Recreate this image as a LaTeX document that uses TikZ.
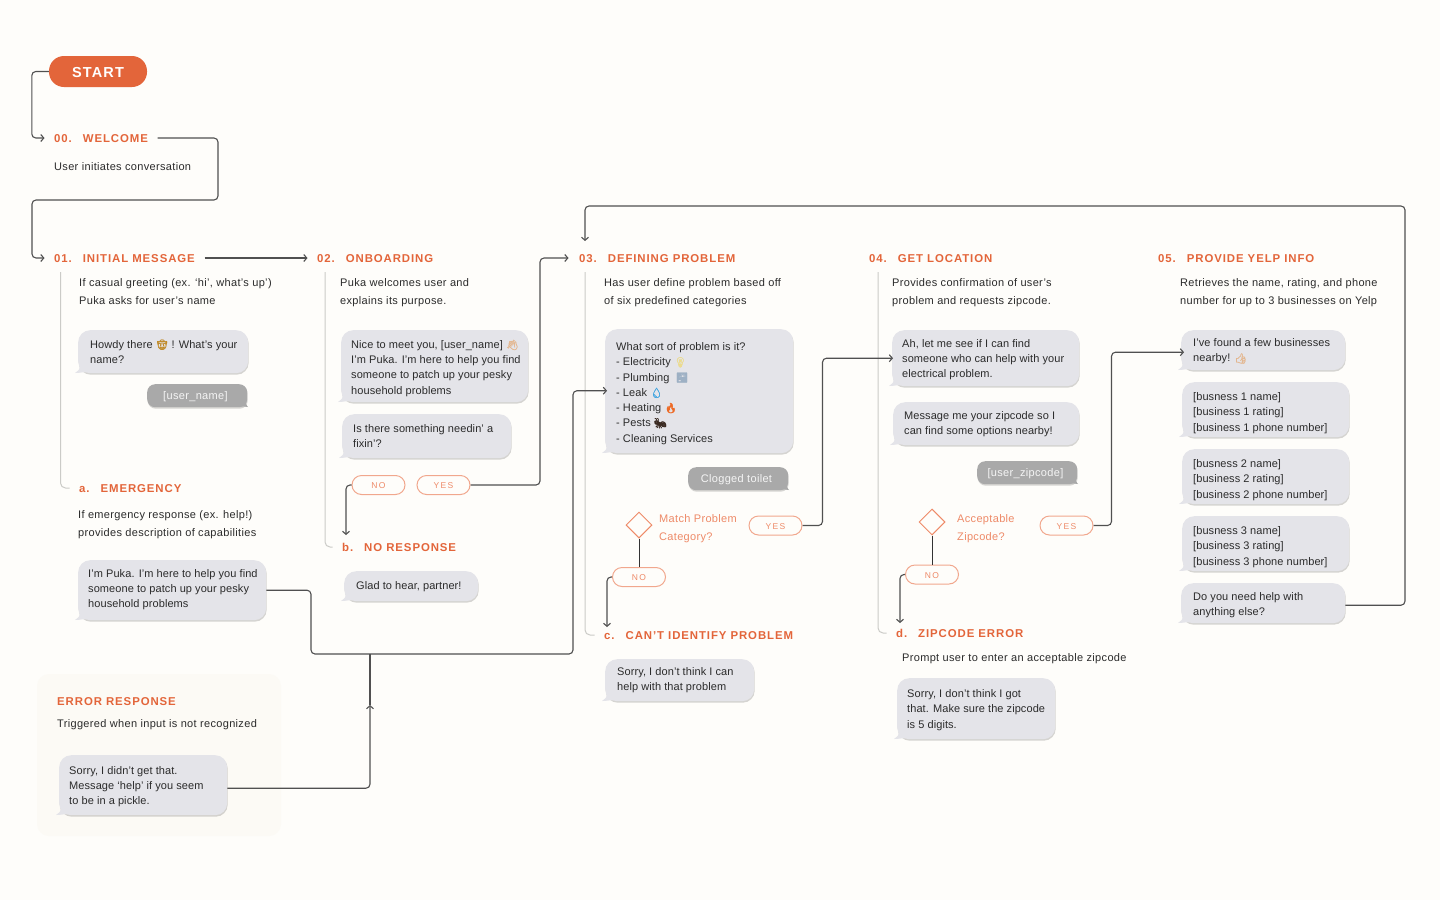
\documentclass[tikz,border=0pt]{standalone}
\usepackage{fontspec}
\setmainfont[LetterSpace=0.7]{Liberation Sans}
\newfontfamily\headfont[LetterSpace=8]{Liberation Sans}
\newfontfamily\descfont[LetterSpace=3]{Liberation Sans}
\newfontfamily\pillfont[LetterSpace=16]{Liberation Sans}
\newfontfamily\emofont[FakeBold=2]{Noto Emoji}
\usetikzlibrary{arrows.meta,shapes.geometric,shadows}
\definecolor{paper}{HTML}{FEFDFA}
\definecolor{panel}{HTML}{FCFAF5}
\definecolor{orange}{HTML}{E3653A}
\definecolor{softorange}{HTML}{EE8A68}
\definecolor{pillline}{HTML}{F1A78D}
\definecolor{bubblegrey}{HTML}{E4E4E9}
\definecolor{usergrey}{HTML}{A9A9A9}
\definecolor{ink}{HTML}{2B2B2B}
\definecolor{wire}{HTML}{505050}
\definecolor{railgrey}{HTML}{CBCBC7}
\definecolor{cowboy}{HTML}{C08A28}
\definecolor{skin}{HTML}{E3B68E}
\definecolor{bulb}{HTML}{EBDB90}
\definecolor{tap}{HTML}{9DB0C4}
\definecolor{drop}{HTML}{3FA4E0}
\definecolor{flame}{HTML}{EE6A25}
\definecolor{ant}{HTML}{3A2A22}
\newcommand{\emo}[2]{{\textcolor{#1}{\emofont\fontsize{10}{15}\selectfont #2}}}
\tikzset{
  x=1pt,y=-1pt,
  startpill/.style={fill=orange,rounded corners=15pt,minimum width=98pt,minimum height=31pt,inner sep=0,text=white,text height=11.5pt,text depth=0pt,font=\headfont\bfseries\fontsize{14.5}{18}\selectfont},
  heading/.style={anchor=west,inner xsep=9.5pt,inner ysep=0,xshift=-9.5pt,text=orange,text height=8.5pt,text depth=0pt,font=\headfont\bfseries\fontsize{11.4}{14}\selectfont},
  desc/.style={anchor=west,inner sep=0,text=ink,text height=8pt,text depth=0pt,font=\descfont\fontsize{11}{14}\selectfont},
  question/.style={anchor=west,inner sep=0,text=softorange,text height=8pt,text depth=0pt,font=\descfont\fontsize{11}{14}\selectfont},
  botbubble/.style={anchor=north west,inner sep=0,fill=bubblegrey,rounded corners=12pt,text=ink,
     drop shadow={shadow xshift=.5pt,shadow yshift=-1.5pt,fill=black,opacity=.16},font=\fontsize{11}{15.25}\selectfont},
  userbubble/.style={anchor=north west,inner sep=0,fill=usergrey,rounded corners=8pt,text=white!88!usergrey,
     drop shadow={shadow xshift=.5pt,shadow yshift=-1.5pt,fill=black,opacity=.16},font=\descfont\fontsize{11}{15}\selectfont},
  pill/.style={draw=pillline,line width=1pt,fill=paper,rounded corners=9.5pt,minimum width=53pt,minimum height=19pt,inner sep=0,text=softorange,text height=7.5pt,text depth=0pt,font=\pillfont\fontsize{8.5}{10}\selectfont},
  choice/.style={diamond,aspect=1,draw=softorange,line width=1pt,fill=paper,minimum width=26pt,minimum height=26pt,inner sep=0},
  conn/.style={draw=wire,line width=1.1pt,rounded corners=4pt,-{Straight Barb[length=3pt,width=7pt]}},
  plainconn/.style={draw=wire,line width=1.1pt,rounded corners=4pt},
  stem/.style={draw=black!80,line width=1pt},
  rail/.style={draw=railgrey,line width=1pt,rounded corners=5pt},
}
% name, x1, y1, x2, y2, text left, text drop, lines
\newcommand{\botb}[8]{%
  \pgfmathsetlengthmacro{\bw}{(#4-#2)*1pt}\pgfmathsetlengthmacro{\bh}{(#5-#3)*1pt}\pgfmathsetlengthmacro{\bp}{(#6-#2)*1pt}%
  \node[botbubble,minimum width=\bw,minimum height=\bh] (#1) at (#2,#3) {\makebox[\bw][l]{\hspace{\bp}\raisebox{0pt}[\dimexpr\height+#7pt+#7pt\relax][\depth]{\begin{tabular}{@{}l@{}}#8\end{tabular}}}};
  \fill[bubblegrey] (#2+2,#5-8) .. controls (#2+2,#5-4) and (#2,#5-1) .. (#2-3,#5) .. controls (#2+2,#5) and (#2+5,#5-1) .. (#2+9,#5-1) -- cycle;
}
\newcommand{\userb}[6]{%
  \pgfmathsetlengthmacro{\bw}{(#4-#2)*1pt}\pgfmathsetlengthmacro{\bh}{(#5-#3)*1pt}%
  \node[userbubble,minimum width=\bw,minimum height=\bh] (#1) at (#2,#3) {\raisebox{0pt}[\dimexpr\height+2pt\relax][\depth]{#6}\hspace*{3.5pt}};
  \fill[usergrey] (#4-2,#5-8) .. controls (#4-2,#5-4) and (#4,#5-1) .. (#4+1,#5) .. controls (#4-2,#5) and (#4-5,#5-1) .. (#4-9,#5-1) -- cycle;
}
\begin{document}
\begin{tikzpicture}
\useasboundingbox (0,0) rectangle (1440,900);
\fill[paper] (0,0) rectangle (1440,900);
\fill[panel,rounded corners=12pt] (37,674) rectangle (281,836);

% rails
\coordinate (r1) at (60.5,272);
\coordinate (r2) at (325,272);
\coordinate (r3) at (585,272);
\coordinate (r4) at (878,272);

% start and headings
\node[startpill] (start) at (98,71.5) {START};
\node[heading] (h00) at (54,138) {00.\hspace{11pt}WELCOME};
\node[heading] (h01) at (54,258) {01.\hspace{11pt}INITIAL MESSAGE};
\node[heading] (h02) at (317,258) {02.\hspace{11pt}ONBOARDING};
\node[heading] (h03) at (579,258) {03.\hspace{11pt}DEFINING PROBLEM};
\node[heading] (h04) at (869,258) {04.\hspace{11pt}GET LOCATION};
\node[heading] (h05) at (1158,258) {05.\hspace{11pt}PROVIDE YELP INFO};
\node[heading] (ha) at (79,488) {a.\hspace{11pt}EMERGENCY};
\node[heading] (hb) at (342,547) {b.\hspace{11pt}NO RESPONSE};
\node[heading] (hc) at (604,635) {c.\hspace{11pt}CAN’T IDENTIFY PROBLEM};
\node[heading] (hd) at (896,633) {d.\hspace{11pt}ZIPCODE ERROR};
\node[heading] (herr) at (57,701) {ERROR RESPONSE};

\draw[rail] (r1) |- (ha.west);
\draw[rail] (r2) |- (hb.west);
\draw[rail] (r3) |- (hc.west);
\draw[rail] (r4) |- (hd.west);

% descriptions
\node[desc] (d00) at (54,166) {User initiates conversation};
\node[desc] (d01a) at (79,282) {If casual greeting (ex. ‘hi’, what’s up’)};
\node[desc] (d01b) at (79,300) {Puka asks for user’s name};
\node[desc] (d02a) at (340,282) {Puka welcomes user and};
\node[desc] (d02b) at (340,300) {explains its purpose.};
\node[desc] (d03a) at (604,282) {Has user define problem based off};
\node[desc] (d03b) at (604,300) {of six predefined categories};
\node[desc] (d04a) at (892,282) {Provides confirmation of user’s};
\node[desc] (d04b) at (892,300) {problem and requests zipcode.};
\node[desc] (d05a) at (1180,282) {Retrieves the name, rating, and phone};
\node[desc] (d05b) at (1180,300) {number for up to 3 businesses on Yelp};
\node[desc] (dae) at (78,514) {If emergency response (ex. help!)};
\node[desc] (daf) at (78,532) {provides description of capabilities};
\node[desc] (dd) at (902,657) {Prompt user to enter an acceptable zipcode};
\node[desc] (derr) at (57,723) {Triggered when input is not recognized};

% bubbles
\botb{howdy}{78}{330}{248}{373}{90}{1}{Howdy there \emo{cowboy}{🤠} ! What’s your\\name?}
\userb{uname}{147}{384}{247}{407}{[user\_name]}
\botb{nice}{341}{330}{528}{402}{351}{2}{Nice to meet you, [user\_name] \emo{skin}{👋}\\I’m Puka. I’m here to help you find\\someone to patch up your pesky\\household problems}
\botb{fixin}{342}{414}{511}{458}{353}{1}{Is there something needin’ a\\fixin’?}
\botb{glad}{344}{571}{478}{601}{356}{0}{Glad to hear, partner!}
\botb{emerg}{78}{560}{266}{620}{88}{-1}{I’m Puka. I’m here to help you find\\someone to patch up your pesky\\household problems}
\botb{sorrye}{59}{755}{227}{815}{69}{1}{Sorry, I didn’t get that.\\Message ‘help’ if you seem\\to be in a pickle.}
\botb{prob}{605}{329}{793}{453}{616}{2}{What sort of problem is it?\\- Electricity \emo{bulb}{💡}\\- Plumbing \ \emo{tap}{🚰}\\- Leak \emo{drop}{💧}\\- Heating \emo{flame}{🔥}\\- Pests \emo{ant}{🐜}\\- Cleaning Services}
\userb{clog}{688}{467}{788}{490}{Clogged toilet}
\botb{sorryc}{605}{659}{754}{701}{617}{0}{Sorry, I don’t think I can\\help with that problem}
\botb{ah}{892}{330}{1079}{386}{902}{1}{Ah, let me see if I can find\\someone who can help with your\\electrical problem.}
\botb{msg}{893}{402}{1079}{445}{904}{0}{Message me your zipcode so I\\can find some options nearby!}
\userb{uzip}{977}{461}{1077}{484}{[user\_zipcode]}
\botb{sorryd}{897}{678}{1055}{739}{907}{1}{Sorry, I don’t think I got\\that. Make sure the zipcode\\is 5 digits.}
\botb{ive}{1181}{330}{1345}{370}{1193}{1}{I’ve found a few businesses\\nearby! \emo{skin}{👍}}
\botb{bizone}{1182}{382}{1349}{437}{1193}{3}{[busness 1 name]\\[0pt][business 1 rating]\\[0pt][business 1 phone number]}
\botb{biztwo}{1182}{449}{1349}{504}{1193}{3}{[busness 2 name]\\[0pt][business 2 rating]\\[0pt][business 2 phone number]}
\botb{bizthree}{1182}{516}{1349}{571}{1193}{3}{[busness 3 name]\\[0pt][business 3 rating]\\[0pt][business 3 phone number]}
\botb{doyou}{1181}{583}{1345}{623}{1193}{2}{Do you need help with\\anything else?}

% decisions
\node[choice] (dia3) at (639,525) {};
\node[choice] (dia4) at (932,522) {};
\node[question] (q3a) at (659,518) {Match Problem};
\node[question] (q3b) at (659,536) {Category?};
\node[question] (q4a) at (957,518) {Acceptable};
\node[question] (q4b) at (957,536) {Zipcode?};
\node[pill] (no2) at (378.5,485) {NO};
\node[pill] (yes2) at (443.5,485) {YES};
\node[pill] (yes3) at (775.5,525.5) {YES};
\node[pill] (no3) at (639,577) {NO};
\node[pill] (yes4) at (1066.5,525.5) {YES};
\node[pill] (no4) at (932,574.5) {NO};

% connector helpers
\coordinate (tob) at (346,535);
\coordinate (toc) at (607,627);
\coordinate (tod) at (900,623);
\coordinate (toh3) at (585,241);
\coordinate (errtip) at (370,705);
\coordinate (join) at (370,654);

% connectors
\draw[conn] (start.west) -- ++(-17,0) |- (h00.west);
\draw[conn] (h00.east) -| (218,200) -- (32,200) |- (h01.west);
\draw[conn] (h01.east) -- (h02.west);
\draw[conn] (yes2.east) -- ++(69.5,0) |- ([xshift=-1pt]h03.west);
\draw[conn] (emerg.east) -| (311,654) -- (573,654) |- ([xshift=2pt,yshift=.5pt]prob.west);
\draw[conn] ([yshift=-3pt]sorrye.east) -| (errtip);
\draw[plainconn] (errtip) -- (join);
\draw[conn] (no2.west) -| (tob);
\draw[conn] (yes3.east) -- ++(20,0) |- ([xshift=1pt]ah.west);
\draw[conn] (no3.west) -| (toc);
\draw[stem] (dia3.south) -- (no3.north);
\draw[conn] (yes4.east) -- ++(18,0) |- ([xshift=3pt,yshift=-2pt]ive.west);
\draw[conn] (no4.west) -| (tod);
\draw[stem] (dia4.south) -- (no4.north);
\draw[conn] ([yshift=-2pt]doyou.east) -| (1405,206) -| (toh3);
\end{tikzpicture}
\end{document}
